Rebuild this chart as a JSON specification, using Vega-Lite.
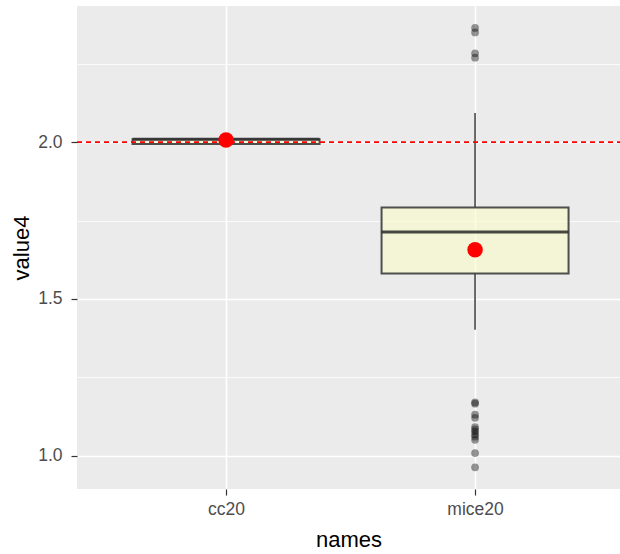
{
  "$schema": "https://vega.github.io/schema/vega-lite/v6.json",
  "autosize": {"type": "none"},
  "padding": {"left": 77, "top": 6, "right": 0, "bottom": 65},
  "width": 543,
  "height": 483,
  "background": "white",
  "config": {
    "view": {"fill": "#EBEBEB", "stroke": null},
    "font": "Liberation Sans"
  },
  "datasets": {
    "summary": [
      {"names": "cc20", "lower": 1.9946, "q1": 1.9946, "median": 2.0096, "q3": 2.0096, "upper": 2.0096, "mean": 2.007},
      {"names": "mice20", "lower": 1.4017, "q1": 1.581, "median": 1.714, "q3": 1.7922, "upper": 2.0934, "mean": 1.657}
    ],
    "outliers": [
      {"names": "mice20", "value4": 2.3644},
      {"names": "mice20", "value4": 2.3503},
      {"names": "mice20", "value4": 2.2837},
      {"names": "mice20", "value4": 2.2697},
      {"names": "mice20", "value4": 1.170},
      {"names": "mice20", "value4": 1.166},
      {"names": "mice20", "value4": 1.131},
      {"names": "mice20", "value4": 1.121},
      {"names": "mice20", "value4": 1.0915},
      {"names": "mice20", "value4": 1.084},
      {"names": "mice20", "value4": 1.077},
      {"names": "mice20", "value4": 1.068},
      {"names": "mice20", "value4": 1.061},
      {"names": "mice20", "value4": 1.051},
      {"names": "mice20", "value4": 1.0086},
      {"names": "mice20", "value4": 0.963}
    ]
  },
  "encoding": {
    "x": {
      "field": "names",
      "type": "nominal",
      "scale": {"type": "point", "domain": ["cc20", "mice20"], "padding": 0.5904, "align": 0.507},
      "axis": {
        "title": "names",
        "grid": true,
        "gridColor": "white",
        "gridWidth": 1.6,
        "domain": false,
        "tickColor": "#333333",
        "tickSize": 6,
        "tickWidth": 1.2,
        "labelAngle": 0,
        "labelFontSize": 17.5,
        "labelColor": "#4D4D4D",
        "labelPadding": 5,
        "titleFontSize": 22,
        "titleFontWeight": "normal",
        "titleColor": "black",
        "titlePadding": 12
      }
    }
  },
  "layer": [
    {
      "data": {"name": "summary"},
      "mark": {"type": "rule", "color": "#333333", "strokeWidth": 1.8, "opacity": 0.8},
      "encoding": {
        "y": {
          "field": "lower",
          "type": "quantitative",
          "scale": {"domain": [0.894, 2.4345], "nice": false, "zero": false},
          "axis": {
            "title": "value4",
            "values": [1, 1.25, 1.5, 1.75, 2, 2.25],
            "labelExpr": "datum.value % 0.5 === 0 ? format(datum.value, '.1f') : ''",
            "grid": true,
            "gridColor": "white",
            "gridWidth": {"condition": {"test": "datum.value % 0.5 === 0", "value": 1.6}, "value": 0.8},
            "domain": false,
            "tickColor": "#333333",
            "tickSize": 6,
            "tickWidth": 1.2,
            "tickOpacity": {"condition": {"test": "datum.value % 0.5 === 0", "value": 1}, "value": 0},
            "labelFontSize": 17.5,
            "labelColor": "#4D4D4D",
            "labelPadding": 9,
            "titleFontSize": 22,
            "titleFontWeight": "normal",
            "titleColor": "black",
            "titlePadding": 4
          }
        },
        "y2": {"field": "q1"}
      }
    },
    {
      "data": {"name": "summary"},
      "mark": {"type": "rule", "color": "#333333", "strokeWidth": 1.8, "opacity": 0.8},
      "encoding": {
        "y": {"field": "q3", "type": "quantitative"},
        "y2": {"field": "upper"}
      }
    },
    {
      "data": {"name": "summary"},
      "mark": {"type": "bar", "size": 187, "fill": "#FAFAC8", "fillOpacity": 0.6, "stroke": "#333333", "strokeOpacity": 0.85, "strokeWidth": 2},
      "encoding": {
        "y": {"field": "q1", "type": "quantitative"},
        "y2": {"field": "q3"}
      }
    },
    {
      "data": {"name": "summary"},
      "mark": {"type": "tick", "size": 187, "thickness": 3, "color": "#333333", "opacity": 0.9},
      "encoding": {
        "y": {"field": "median", "type": "quantitative"}
      }
    },
    {
      "data": {"name": "outliers"},
      "mark": {"type": "circle", "size": 60, "color": "black", "opacity": 0.4},
      "encoding": {
        "y": {"field": "value4", "type": "quantitative"}
      }
    },
    {
      "data": {"name": "summary"},
      "mark": {"type": "rule", "color": "red", "strokeWidth": 1.5, "strokeDash": [5, 4]},
      "encoding": {
        "x": {"value": 0},
        "x2": {"value": 543},
        "y": {"datum": 2}
      }
    },
    {
      "data": {"name": "summary"},
      "mark": {"type": "circle", "size": 240, "color": "red", "opacity": 1},
      "encoding": {
        "y": {"field": "mean", "type": "quantitative"}
      }
    }
  ]
}
